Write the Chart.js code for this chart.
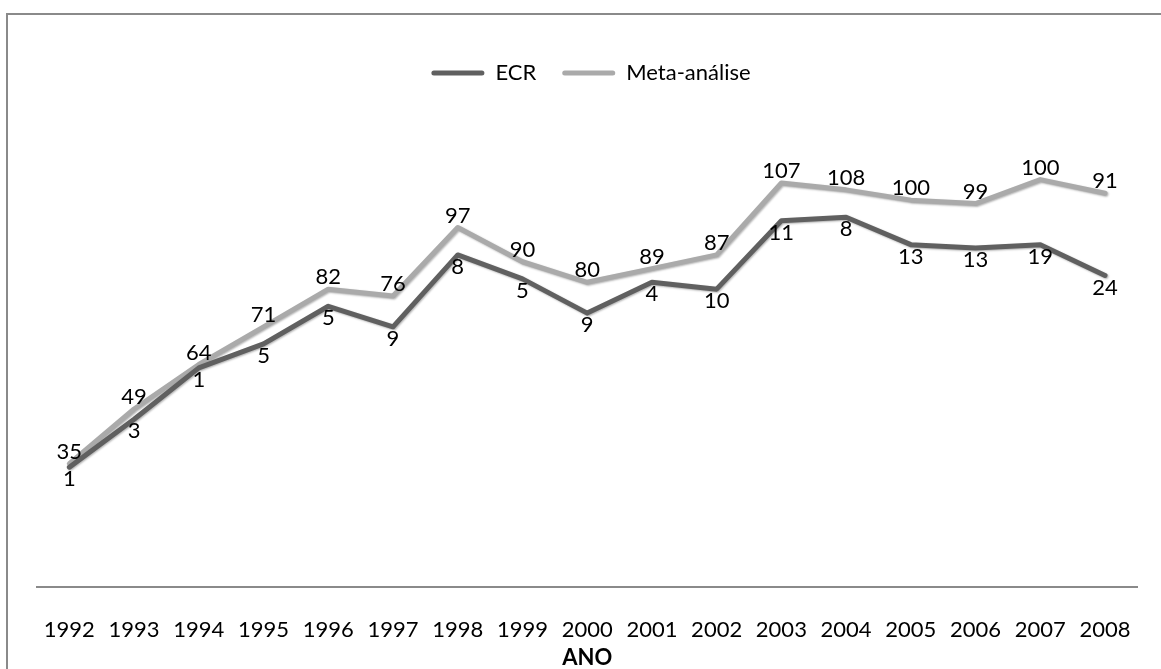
<!DOCTYPE html>
<html>
<head>
<meta charset="utf-8">
<script src="https://cdn.jsdelivr.net/npm/chart.js@4.4.1/dist/chart.umd.min.js"></script>
<style>
    body { margin: 0; background: #fff; overflow: hidden; }
    .wrap { position: relative; width: 1161px; height: 669px; overflow: hidden; }
    .frame { position: absolute; left: 6px; top: 13px; width: 1200px; height: 700px; border: 2px solid #8a8a8a; }
    canvas { position: absolute; left: 0; top: 0; }
</style>
</head>
<body>
<div class="wrap">
    <div class="frame"></div>
    <canvas id="anoChart" width="1161" height="669"></canvas>
</div>
<script>
// anos
const anos = ['1992', '1993', '1994', '1995', '1996', '1997', '1998', '1999', '2000',
    '2001', '2002', '2003', '2004', '2005', '2006', '2007', '2008'];

// valores dos rótulos
const ecr = [1, 3, 1, 5, 5, 9, 8, 5, 9, 4, 10, 11, 8, 13, 13, 19, 24];
const metaAnalise = [35, 49, 64, 71, 82, 76, 97, 90, 80, 89, 87, 107, 108, 100, 99, 100, 91];

const corEcr = '#606060';
const corMeta = '#aaaaaa';
const fonte = 'Lato, "Noto Sans", sans-serif';

// rótulos de dados (sem plugin externo)
const rotulos = {
    id: 'rotulos',
    afterDatasetsDraw(chart) {
        const ctx = chart.ctx;
        ctx.save();
        ctx.font = '22px ' + fonte;
        ctx.fillStyle = '#000';
        ctx.textAlign = 'center';
        ctx.textBaseline = 'middle';
        chart.data.datasets.forEach((ds, d) => {
            const meta = chart.getDatasetMeta(d);
            meta.data.forEach((pt, i) => {
                ctx.fillText(String(ds.rotulos[i]), pt.x, pt.y + ds.desloc);
            });
        });
        ctx.restore();
    }
};

// sombra leve nas linhas, como no Excel
const sombra = {
    id: 'sombra',
    beforeDatasetDraw(chart) {
        const ctx = chart.ctx;
        ctx.save();
        ctx.shadowColor = 'rgba(0,0,0,0.3)';
        ctx.shadowBlur = 2;
        ctx.shadowOffsetX = 1;
        ctx.shadowOffsetY = 1;
    },
    afterDatasetDraw(chart) {
        chart.ctx.restore();
    }
};

new Chart(document.getElementById('anoChart'), {
    type: 'line',
    data: {
        labels: anos,
        datasets: [
            {
                label: 'ECR',
                data: metaAnalise,
                rotulos: ecr,
                desloc: 12,
                borderColor: corEcr,
                backgroundColor: corEcr,
                borderWidth: 5,
                borderCapStyle: 'round',
                borderJoinStyle: 'round',
                pointRadius: 0,
                tension: 0,
                fill: false
            },
            {
                label: 'Meta-análise',
                data: ecr,
                rotulos: metaAnalise,
                desloc: -12,
                borderColor: corMeta,
                backgroundColor: corMeta,
                borderWidth: 5,
                borderCapStyle: 'round',
                borderJoinStyle: 'round',
                pointRadius: 0,
                tension: 0,
                fill: false
            }
        ]
    },
    options: {
        responsive: false,
        animation: false,
        layout: {
            padding: { left: 37, right: 16, top: 36, bottom: 0 }
        },
        plugins: {
            tooltip: { enabled: false },
            legend: {
                position: 'top',
                labels: {
                    font: { family: fonte, size: 22 },
                    color: '#000',
                    boxWidth: 53,
                    boxHeight: 5,
                    padding: 26,
                    generateLabels(chart) {
                        return chart.data.datasets.map((ds, i) => ({
                            text: ds.label,
                            fillStyle: ds.borderColor,
                            strokeStyle: ds.borderColor,
                            lineWidth: 0,
                            borderRadius: 2.5,
                            fontColor: '#000',
                            datasetIndex: i
                        }));
                    }
                }
            }
        },
        scales: {
            x: {
                offset: true,
                grid: { display: false, drawTicks: false },
                border: { display: true, color: '#8a8a8a', width: 2 },
                ticks: {
                    color: '#000',
                    font: { family: fonte, size: 22 },
                    padding: 30,
                    autoSkip: false,
                    maxRotation: 0
                },
                title: {
                    display: true,
                    text: 'ANO',
                    color: '#000',
                    font: { family: fonte, size: 22, weight: 'bold', lineHeight: 1 },
                    padding: { top: 0, bottom: 0 }
                },
                afterFit(scale) {
                    // o Excel deixa o título colado aos anos
                    scale.height = 82;
                }
            },
            y: {
                display: false,
                stacked: true,
                min: 0,
                max: 144
            }
        }
    },
    plugins: [sombra, rotulos]
});
</script>
</body>
</html>
